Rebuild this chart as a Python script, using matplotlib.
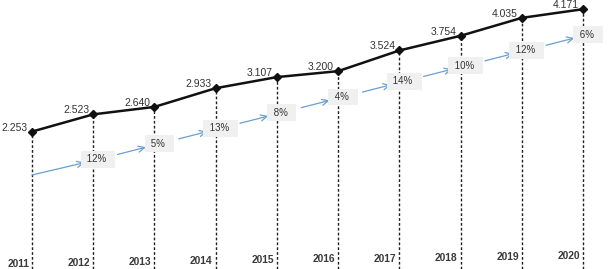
import matplotlib
matplotlib.use("Agg")
import matplotlib.pyplot as plt

# ---- data ----
years = [2011, 2012, 2013, 2014, 2015, 2016, 2017, 2018, 2019, 2020]
values = [2.253, 2.523, 2.640, 2.933, 3.107, 3.200, 3.524, 3.754, 4.035, 4.171]
value_labels = ["2.253", "2.523", "2.640", "2.933", "3.107", "3.200", "3.524", "3.754", "4.035", "4.171"]
growth_labels = ["12%", "5%", "13%", "8%", "4%", "14%", "10%", "12%", "6%"]

plt.rcParams["font.family"] = ["Liberation Sans", "DejaVu Sans"]

W, H = 615, 269
fig = plt.figure(figsize=(W / 100, H / 100), dpi=100)
ax = fig.add_axes([0, 0, 1, 1])
ax.set_xlim(2010.477, 2020.523)
ax.set_ylim(0.100, 4.315)
ax.axis("off")

# dotted drop lines
for x, v in zip(years, values):
    ax.plot([x, x], [0.100, v], color="#222222", lw=1.0,
            linestyle=(0, (2, 1.5)), zorder=2)

# main line
ax.plot(years, values, color="#111111", lw=1.8, marker="D", ms=4,
        markerfacecolor="#111111", zorder=5)

# value labels
for x, v, lab in zip(years, values, value_labels):
    ax.annotate(lab, xy=(x, v), xytext=(-4, 1), textcoords="offset pixels",
                ha="right", va="baseline", fontsize=7.5, color="#333333", zorder=6)

# year labels
for i, x in enumerate(years):
    ax.annotate(str(x), xy=(x, 0), xycoords=("data", "axes fraction"),
                xytext=(-3, 2 + 0.9 * i), textcoords="offset pixels",
                ha="right", va="baseline", fontsize=7.4, fontweight="bold",
                color="#3a3a3a")

# growth track (layout): straight line in pixel space
def track_frac(k):
    return 1 - (175 - 15.6 * k) / H

xoff = 0.08
arrow_kw = dict(arrowstyle="->,head_length=0.45,head_width=0.22",
                color="#6a9fd0", lw=0.9, mutation_scale=10)

prev = (years[0], track_frac(0))
for k, lab in enumerate(growth_labels, start=1):
    cur = (years[k] + xoff, track_frac(k))
    shrinkA = 0 if k == 1 else 14.4
    ax.annotate("", xy=cur, xycoords=("data", "axes fraction"),
                xytext=prev, textcoords=("data", "axes fraction"),
                arrowprops=dict(shrinkA=shrinkA, shrinkB=10, **arrow_kw),
                zorder=3)
    ax.annotate(" " + lab + "  ", xy=cur, xycoords=("data", "axes fraction"),
                ha="center", va="center", fontsize=7, color="#333333",
                bbox=dict(boxstyle="square,pad=0.35", fc="#f0f0f0", ec="none"),
                zorder=4)
    prev = cur

fig.savefig("out.png", dpi=100)
